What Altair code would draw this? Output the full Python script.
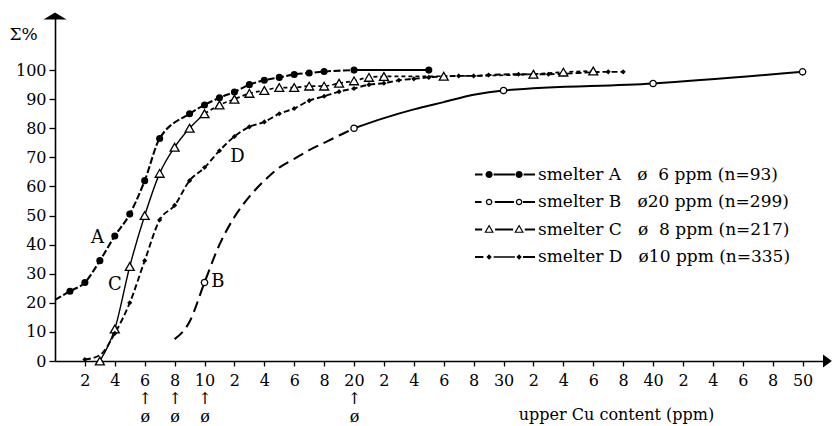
import altair as alt
import pandas as pd

FONT = "DejaVu Serif"

# ---------------- data ----------------
# smelter A (filled circles)
A_x = [1, 2, 3, 4, 5, 6, 7, 9, 10, 11, 12, 13, 14, 15, 16, 17, 18, 20, 25]
A_y = [24, 27, 34.5, 43, 50.5, 62, 76.5, 85, 88, 90.5, 92.5, 95, 96.5, 97.5, 98.5, 99, 99.5, 100, 100]
A_line_x = [0] + A_x
A_line_y = [21] + A_y

# smelter B (open circles)
B_x = [10, 20, 30, 40, 50]
B_y = [27, 80, 93, 95.4, 99.4]
B_line_x = [8, 9, 10, 11, 12, 13, 14, 15, 16, 17, 18, 19, 20, 22, 24, 26, 28, 30, 40, 50]
B_line_y = [7.5, 13.5, 27, 40, 49.5, 56.5, 62, 66.5, 69.5, 72.5, 75, 77.5, 80, 83.5, 86.5, 89, 91.5, 93, 95.4, 99.4]

# smelter C (open triangles)
C_x = [3, 4, 5, 6, 7, 8, 9, 10, 11, 12, 13, 14, 15, 16, 17, 18, 19, 20, 21, 22, 26, 32, 34, 36]
C_y = [0, 11, 32.5, 50, 64.5, 73.5, 80, 85, 88, 90, 92, 93, 94, 94, 94.5, 94.5, 95.5, 96.3, 97.5, 97.8, 97.9, 98.6, 99.3, 99.7]

# smelter D (small filled diamonds)
D_x = [2, 4, 5, 6, 7, 8, 9, 10, 11, 12, 13, 14, 15, 16, 17, 18, 19, 20, 21, 22, 23, 24, 25, 27, 28, 29, 31, 33, 37, 38]
D_y = [0.5, 9.5, 20, 34.5, 48.5, 53.5, 62, 66.5, 72.3, 77.2, 80.5, 82.2, 85, 86.8, 89.5, 91, 92.6, 93.7, 95, 95.5,
       96.5, 97, 97.5, 98, 98, 98.3, 98.6, 98.6, 99.4, 99.4]
D_line_x = [2, 3] + D_x[1:]
D_line_y = [0.5, 2] + D_y[1:]

# curve letters
letter_txt = ["A", "B", "C", "D"]
letter_x = [2.85, 10.9, 4.0, 12.2]
letter_y = [42.3, 27.1, 26.1, 70.1]

legend_labels = [
    "smelter A\u00a0\u00a0\u00a0ø\u00a0\u00a06 ppm (n=93)",
    "smelter B\u00a0\u00a0\u00a0ø20 ppm (n=299)",
    "smelter C\u00a0\u00a0\u00a0ø\u00a0\u00a08 ppm (n=217)",
    "smelter D\u00a0\u00a0\u00a0ø10 ppm (n=335)",
]
mean_ticks = [6, 8, 10, 20]
x_tick_values = list(range(2, 51, 2))
y_tick_values = list(range(0, 101, 10))

XMAX = 51.7
YMAX = 118.6

# ---------------- scales / axes ----------------
x_scale = alt.Scale(domain=[0, XMAX], nice=False, zero=False)
y_scale = alt.Scale(domain=[0, YMAX], nice=False)

label_core = "(datum.value % 10 == 0 ? datum.value : datum.value % 10) + ''"
label_expr = f"indexof({mean_ticks}, datum.value) >= 0 ? [{label_core}, '↑', 'ø'] : {label_core}"

x_axis = alt.Axis(
    values=x_tick_values, labelExpr=label_expr, title="upper Cu content (ppm)",
    labelLineHeight=18, labelPadding=6, tickSize=5, labelFlush=False, labelOverlap=False,
    titleX=561, titleY=53, titleAlign="center", titleBaseline="middle",
)
y_axis = alt.Axis(
    values=y_tick_values, title="Σ%", titleAngle=0, titleAlign="left", titleFontSize=17,
    titleBaseline="middle", titleX=-46, titleY=18, tickSize=6, labelPadding=3,
)


def df(xs, ys):
    return pd.DataFrame({"x": xs, "y": ys})


def enc(chart):
    return chart.encode(
        x=alt.X("x:Q", scale=x_scale, axis=x_axis),
        y=alt.Y("y:Q", scale=y_scale, axis=y_axis),
    )


def segment(xs, ys, lo, hi, dash, width):
    d = df(xs, ys)
    d = d[(d.x >= lo) & (d.x <= hi)]
    kw = dict(interpolate="monotone", color="black", strokeWidth=width)
    if dash:
        kw["strokeDash"] = dash
    return enc(alt.Chart(d).mark_line(**kw))


# legend symbol paths (drawn in units where 1 unit = 10 px)
K = 3.0


def circle(cx, r, cw=True):
    s = 0 if cw else 1
    cx, r = cx * K, r * K
    return (f"M{cx - r:.3f},0 A{r:.3f},{r:.3f} 0 1,{s} {cx + r:.3f},0 "
            f"A{r:.3f},{r:.3f} 0 1,{s} {cx - r:.3f},0 Z ")


def rect(x0, x1, h=0.032):
    x0, x1, h = x0 * K, x1 * K, h * K
    return f"M{x0:.3f},{-h:.3f} L{x1:.3f},{-h:.3f} L{x1:.3f},{h:.3f} L{x0:.3f},{h:.3f} Z "


def tri(cx, outer=True):
    if outer:
        pts = [(cx, -0.17), (cx + 0.16, 0.11), (cx - 0.16, 0.11)]
    else:
        pts = [(cx, -0.09), (cx - 0.095, 0.075), (cx + 0.095, 0.075)]
    p = " L".join(f"{a * K:.3f},{b * K:.3f}" for a, b in pts)
    return f"M{p} Z "


def diamond(cx, r=0.09):
    pts = [(cx, -r), (cx + r, 0), (cx, r), (cx - r, 0)]
    p = " L".join(f"{a * K:.3f},{b * K:.3f}" for a, b in pts)
    return f"M{p} Z "


p1, p2 = -0.53, 0.47
path_A = rect(-1, -0.75) + rect(-0.38, 0.33) + rect(0.62, 1.0) + circle(p1, 0.12) + circle(p2, 0.12)
path_B = (rect(-1, -0.78) + rect(-0.34, 0.3) + rect(0.6, 1.0)
          + circle(p1, 0.11) + circle(p1, 0.065, cw=False)
          + circle(p2, 0.11) + circle(p2, 0.065, cw=False))
path_C = (rect(-1, -0.76) + rect(-0.33, 0.27) + rect(0.66, 1.0)
          + tri(p1) + tri(p1, False) + tri(p2) + tri(p2, False))
path_D = (rect(-1, -0.72) + rect(-0.38, 0.33, 0.022) + rect(0.6, 1.0)
          + diamond(p1) + diamond(p2))

# ---------------- layers ----------------
layers = []
# lines
layers.append(segment(A_line_x, A_line_y, 0, 20, [7, 2.5], 2.1))
layers.append(segment(A_line_x, A_line_y, 20, 25, None, 2.0))
layers.append(segment(B_line_x, B_line_y, 8, 20, [11, 6], 2.1))
layers.append(segment(B_line_x, B_line_y, 20, 50, None, 2.0))
layers.append(segment(C_x, C_y, 3, 10, None, 1.4))
layers.append(segment(C_x, C_y, 10, 36, [4, 3], 1.7))
layers.append(segment(D_line_x, D_line_y, 2, 38, [6, 3], 1.9))

# markers
layers.append(enc(alt.Chart(df(A_x, A_y)).mark_point(
    shape="circle", filled=True, color="black", opacity=1, size=50)))
layers.append(enc(alt.Chart(df(B_x, B_y)).mark_point(
    shape="circle", filled=False, fill="white", stroke="black", strokeWidth=1.3, opacity=1, size=40)))
layers.append(enc(alt.Chart(df(C_x, C_y)).mark_point(
    shape="triangle-up", filled=False, fill="white", stroke="black", strokeWidth=1.3, opacity=1, size=80)))
layers.append(enc(alt.Chart(df(D_x, D_y)).mark_point(
    shape="diamond", filled=True, color="black", opacity=1, size=26)))

# curve letters
letters = pd.DataFrame({"x": letter_x, "y": letter_y, "t": letter_txt})
layers.append(enc(alt.Chart(letters).mark_text(
    font=FONT, fontSize=18, color="black")).encode(text="t:N"))

# axis arrowheads at the ends of the axes
layers.append(enc(alt.Chart(df([0], [YMAX])).mark_point(
    shape="M0,-0.3 L1,0.3 L-1,0.3 Z", size=529, filled=True, color="black", opacity=1)))
layers.append(enc(alt.Chart(df([XMAX], [0])).mark_point(
    shape="M0.6,0 L-0.77,-1 L-0.77,1 Z", size=169, filled=True, color="black", opacity=1)))

# legend (custom line-with-marker symbols)
leg_df = pd.DataFrame({"label": legend_labels})
layers.append(alt.Chart(leg_df).mark_point(filled=True, color="black", opacity=1).encode(
    shape=alt.Shape("label:N", scale=alt.Scale(domain=legend_labels, range=[path_A, path_B, path_C, path_D]),
                    legend=alt.Legend(
                        orient="none", legendX=440, legendY=148.5, title=None, padding=0,
                        symbolSize=400, symbolFillColor="black", symbolStrokeWidth=0, symbolOpacity=1,
                        labelFont=FONT, labelFontSize=17, labelColor="black", labelLimit=600,
                        labelOffset=23, rowPadding=9.5,
                    )),
).transform_filter("false"))

chart = alt.layer(*layers).properties(
    width=773, height=345,
    autosize=alt.AutoSizeParams(type="none"),
    padding={"left": 55, "top": 16, "right": 4, "bottom": 65},
).configure_view(stroke=None).configure_axis(
    domainColor="black", domainWidth=1.6, tickColor="black", tickWidth=1.3,
    labelColor="black", labelFont=FONT, labelFontSize=16,
    titleColor="black", titleFont=FONT, titleFontSize=16, titleFontWeight="normal",
    grid=False,
)

chart.save("out.html", embed_options={"renderer": "svg", "actions": False})
